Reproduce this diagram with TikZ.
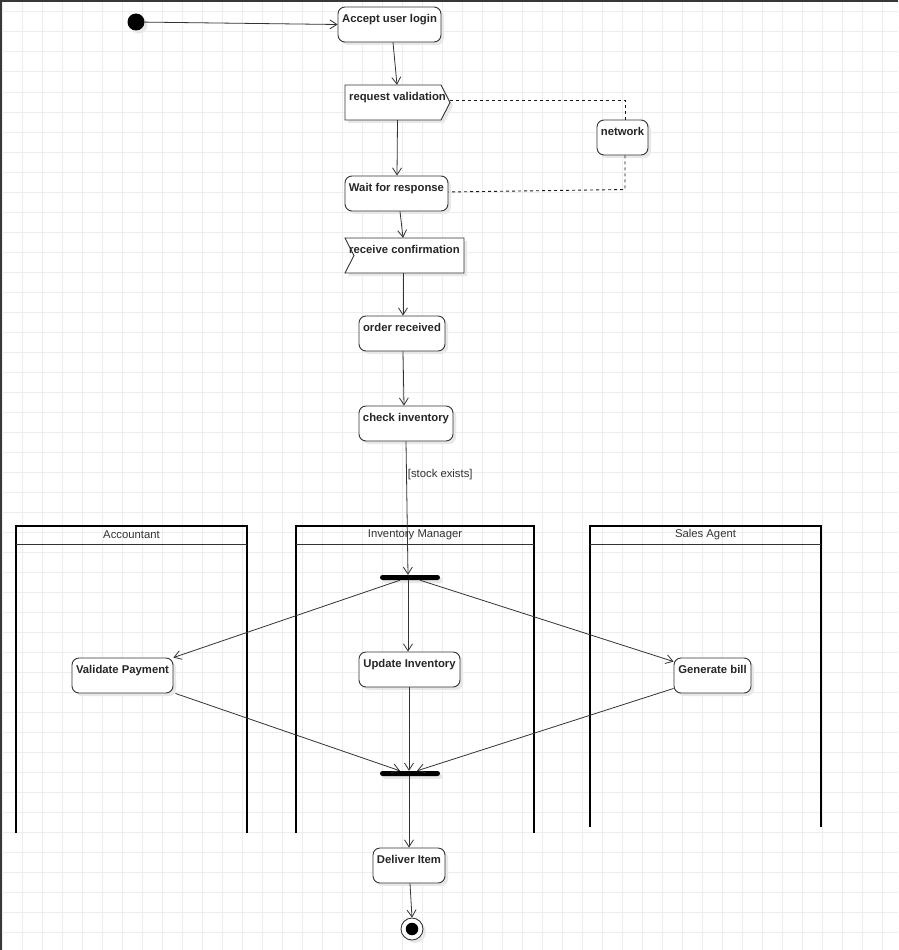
\documentclass[tikz,border=0pt]{standalone}
\usepackage{fontspec}
\setmainfont{Liberation Sans}
\usetikzlibrary{arrows.meta,shadows,calc}
\begin{document}
\begin{tikzpicture}[x=1pt,y=-1pt,
  gridline/.style={draw=black!7,line width=1pt},
  shd/.style={drop shadow={shadow xshift=3pt,shadow yshift=-3pt,fill=black!9,opacity=1}},
  txt/.style={font=\fontsize{11.3}{13}\selectfont\bfseries,text=black!85},
  act/.style={txt,draw=black!80,line width=0.9pt,rounded corners=7pt,fill=white,shd,minimum height=35pt,inner xsep=0pt,inner ysep=0pt,text height=15.5pt,text depth=19.5pt},
  sig/.style={txt,inner sep=0pt,minimum height=35pt,text height=15.5pt,text depth=19.5pt},
  sigshape/.style={draw=black!80,line width=0.9pt,fill=white,shd},
  arr/.style={draw=black!80,line width=0.8pt,-{Straight Barb[length=7pt,width=9pt]}},
  dsh/.style={draw=black!90,line width=0.9pt,dash pattern=on 3pt off 3pt},
  lane/.style={draw=black,line width=2pt},
  lanesep/.style={draw=black!80,line width=1.3pt},
  lanehead/.style={font=\fontsize{11.3}{13}\selectfont,text=black!80,inner sep=0pt,minimum height=18pt},
  bar/.style={fill=black,rounded corners=2.5pt,minimum width=60pt,minimum height=5pt,inner sep=0pt,shd},
  guard/.style={font=\fontsize{11.3}{13}\selectfont,text=black!80,inner sep=0pt,anchor=west}
  ]
\useasboundingbox (0,0) rectangle (898,950);
\fill[white] (0,0) rectangle (898,950);
% grid
\foreach \x in {2,22,...,882} \draw[gridline] (\x,0) -- (\x,950);
\foreach \y in {12,32,...,932} \draw[gridline] (0,\y) -- (898,\y);

% swimlanes
\node[lanehead,minimum width=231pt] (accH) at (131.5,535) {Accountant};
\node[lanehead,minimum width=238pt] (invH) at (415,535) {Inventory Manager};
\node[lanehead,minimum width=231pt] (salH) at (705.5,535) {Sales Agent};
\draw[lane] ($(accH.north west)+(0,307)$) -- (accH.north west) -- (accH.north east) -- ++(0,307);
\draw[lanesep] (accH.south west) -- (accH.south east);
\draw[lane] ($(invH.north west)+(0,307)$) -- (invH.north west) -- (invH.north east) -- ++(0,307);
\draw[lanesep] (invH.south west) -- (invH.south east);
\draw[lane] ($(salH.north west)+(0,301)$) -- (salH.north west) -- (salH.north east) -- ++(0,301);
\draw[lanesep] (salH.south west) -- (salH.south east);

% signal shapes outlines
\draw[sigshape] (345,85) -- (441,85) -- (450,102.5) -- (441,120) -- (345,120) -- cycle;
\draw[sigshape] (345,238) -- (464,238) -- (464,273) -- (345,273) -- (354,255.5) -- cycle;

% nodes
\node[circle,fill=black,minimum size=17pt,inner sep=0pt,shd] (init) at (136,22) {};
\node[act,minimum width=103pt] (acc) at (389.5,24.5) {Accept user login};
\node[sig,minimum width=105pt] (rv) at (397.5,102.5) {request validation};
\node[act,minimum width=51pt] (net) at (622.5,137.5) {network};
\node[act,minimum width=103pt] (wait) at (396.5,193.5) {Wait for response};
\node[sig,minimum width=119pt] (rc) at (404.5,255.5) {receive confirmation};
\node[act,minimum width=86pt] (ord) at (402,333.5) {order received};
\node[act,minimum width=94pt] (chk) at (406,423.5) {check inventory};
\node[bar] (fork) at (410,577.5) {};
\node[act,minimum width=101pt] (vp) at (122.5,675.5) {Validate Payment};
\node[act,minimum width=101pt] (upd) at (409.5,669.5) {Update Inventory};
\node[act,minimum width=77pt] (gb) at (712.5,675.5) {Generate bill};
\node[bar] (join) at (410,773.5) {};
\node[act,minimum width=72pt] (del) at (409,865.5) {Deliver Item};
\node[circle,draw=black!85,line width=0.8pt,fill=white,minimum size=22pt,inner sep=0pt,shd] (fin) at (412,929) {};
\node[circle,fill=black,minimum size=12.5pt,inner sep=0pt] (finc) at (fin) {};

% connectors
\draw[arr] (init) -- (acc.west);
\draw[arr] ([xshift=3.5pt]acc.south) -- ([xshift=-0.5pt]rv.north);
\draw[arr] (rv.south) -- ([xshift=0.5pt]wait.north);
\draw[arr] ([xshift=3.5pt]wait.south) -- ([xshift=-1.5pt]rc.north);
\draw[arr] ([xshift=-1.5pt]rc.south) -- ([xshift=1pt]ord.north);
\draw[arr] ([xshift=1pt]ord.south) -- ([xshift=-2pt]chk.north);
\draw[arr] (chk.south) -- node[guard,pos=0.25,xshift=1pt] (g1) {[stock exists]} ([xshift=-2pt]fork.north);
\draw[arr] ([xshift=-10pt]fork.south) -- (vp.north east);
\draw[arr] ([xshift=-2pt]fork.south) -- ([xshift=-1.5pt]upd.north);
\draw[arr] ([xshift=10pt]fork.south) -- ([yshift=-4pt]gb.north west);
\draw[arr] ([xshift=2pt]vp.south east) -- ([xshift=-10pt]join.north);
\draw[arr] ([xshift=-0.5pt]upd.south) -- ([xshift=-1pt]join.north);
\draw[arr] ([yshift=5pt]gb.south west) -- ([xshift=7pt]join.north);
\draw[arr] ([xshift=-1pt]join.south) -- (del.north);
\draw[arr] ([xshift=1pt]del.south) -- (fin.north);

% dashed links to network
\draw[dsh] ([yshift=2.5pt]rv.east) -- ([xshift=2.5pt,yshift=2.5pt]net.north |- rv.east) -- ([xshift=2.5pt]net.north);
\draw[dsh] ([xshift=2.5pt]net.south) -- ([xshift=2.5pt,yshift=4pt]net.south |- wait.east) -- ([yshift=1.5pt]wait.east);

% window border
\fill[black!78] (0,0) rectangle (898,2);
\fill[black!78] (0,0) rectangle (2,950);
\end{tikzpicture}
\end{document}
